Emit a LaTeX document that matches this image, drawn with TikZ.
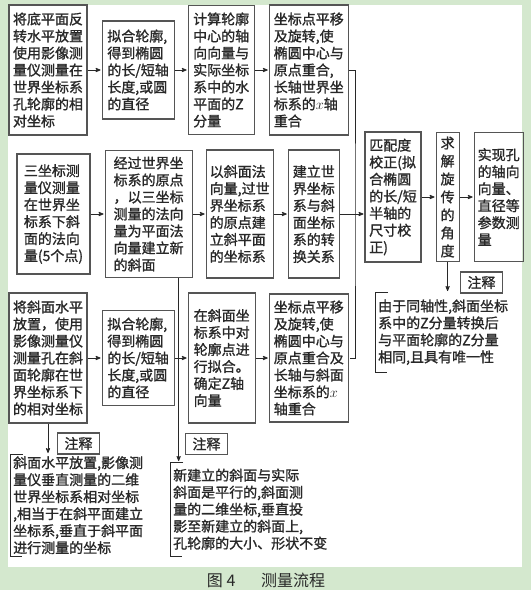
\documentclass[tikz,border=0pt]{standalone}
\usepackage{fontspec}
\setmainfont{Noto Sans CJK SC}[FakeBold=1.2]
\newfontfamily\capfont{Noto Sans CJK SC}
\usepackage{tikz}
\usetikzlibrary{arrows, positioning}
\definecolor{pagegreen}{RGB}{212,232,206}
\definecolor{boxgray}{RGB}{85,85,85}
\definecolor{inkgray}{RGB}{40,40,40}
\tikzset{
		stepbox/.style={draw=boxgray, line width=1.1pt, align=left, inner sep=3pt,
			text=inkgray, font=\fontsize{14}{17}\selectfont},
		notebox/.style={align=left, inner xsep=3pt, inner ysep=0pt,
			text=inkgray, font=\fontsize{14}{17}\selectfont},
		tagbox/.style={draw=boxgray, line width=1.1pt, minimum width=42pt,
			minimum height=21pt, inner sep=0pt, text=inkgray, font=\fontsize{14}{14}\selectfont},
		flow/.style={->, draw=inkgray, line width=0.8pt},
		link/.style={draw=inkgray, line width=0.8pt}
	}
\begin{document}
\begin{tikzpicture}[x=1pt, y=-1pt, >=stealth', shorten >=1pt]
		\useasboundingbox (0,0) rectangle (531,590);
		\fill[pagegreen] (0,0) rectangle (531,590);
		\fill[white] (8,5) rectangle (522,567);

		\node[stepbox, minimum width=78pt, minimum height=130pt] (bot1) at (48,70)
			{将底平面反\\转水平放置\\使用影像测\\量仪测量在\\世界坐标系\\孔轮廓的相\\对坐标};
		\node[stepbox, minimum width=72pt, minimum height=98pt, right=14pt of bot1] (bot2)
			{拟合轮廓,\\得到椭圆\\的长/短轴\\长度,或圆\\的直径};
		\node[stepbox, minimum width=66pt, minimum height=129pt, right=13pt of bot2] (bot3)
			{计算轮廓\\中心的轴\\向向量与\\实际坐标\\系中的水\\平面的Z\\分量};
		\node[stepbox, minimum width=79pt, minimum height=130pt, right=14pt of bot3] (bot4)
			{坐标点平移\\及旋转,使\\椭圆中心与\\原点重合,\\长轴世界坐\\标系的$x$轴\\重合};

		\node[stepbox, minimum width=73pt, minimum height=120pt] (nrm1) at (53.5,214)
			{三坐标测\\量仪测量\\在世界坐\\标系下斜\\面的法向\\量(5个点)};
		\node[stepbox, minimum width=87pt, minimum height=127pt, right=14pt of nrm1] (nrm2)
			{经过世界坐\\标系的原点\\，以三坐标\\测量的法向\\量为平面法\\向量建立新\\的斜面};
		\node[stepbox, minimum width=67pt, minimum height=128pt, right=13pt of nrm2] (nrm3)
			{以斜面法\\向量,过世\\界坐标系\\的原点建\\立斜平面\\的坐标系};
		\node[stepbox, minimum width=51pt, minimum height=128pt, right=14pt of nrm3] (nrm4)
			{建立世\\界坐标\\系与斜\\面坐标\\系的转\\换关系};

		\node[stepbox, minimum width=78pt, minimum height=130pt] (inc1) at (48,358)
			{将斜面水平\\放置，使用\\影像测量仪\\测量孔在斜\\面轮廓在世\\界坐标系下\\的相对坐标};
		\node[stepbox, minimum width=72pt, minimum height=95pt, right=14pt of inc1] (inc2)
			{拟合轮廓,\\得到椭圆\\的长/短轴\\长度,或圆\\的直径};
		\node[stepbox, minimum width=67pt, minimum height=130pt, right=13pt of inc2] (inc3)
			{在斜面坐\\标系中对\\轮廓点进\\行拟合。\\确定Z轴\\向量};
		\node[stepbox, minimum width=79pt, minimum height=128pt, right=13pt of inc3] (inc4)
			{坐标点平移\\及旋转,使\\椭圆中心与\\原点重合及\\长轴与斜面\\坐标系的$x$\\轴重合};

		\node[stepbox, minimum width=56pt, minimum height=130pt] (match) at (393,197)
			{匹配度\\校正(拟\\合椭圆\\的长/短\\半轴的\\尺寸校\\正)};
		\node[stepbox, minimum width=23pt, minimum height=129pt, inner sep=1pt,
			font=\fontsize{14}{18}\selectfont, right=14pt of match] (solve)
			{求\\解\\旋\\传\\的\\角\\度};
		\node[stepbox, minimum width=49pt, minimum height=129pt, right=14pt of solve] (result)
			{实现孔\\的轴向\\向量、\\直径等\\参数测\\量};

		\node[notebox, anchor=north west, minimum height=102pt] (note1) at (10,454)
			{斜面水平放置,影像测\\量仪垂直测量的二维\\世界坐标系相对坐标\\,相当于在斜平面建立\\坐标系,垂直于斜平面\\进行测量的坐标};
		\node[notebox, anchor=north west, minimum height=94pt] (note2) at (170,462)
			{新建立的斜面与实际\\斜面是平行的,斜面测\\量的二维坐标,垂直投\\影至新建立的斜面上,\\孔轮廓的大小、形状不变};
		\node[notebox, anchor=north west, minimum height=80pt] (note3) at (375,292)
			{由于同轴性,斜面坐标\\系中的Z分量转换后\\与平面轮廓的Z分量\\相同,且具有唯一性};

		\node[tagbox] (tag1) at (78.5,443.5) {注释};
		\node[tagbox] (tag2) at (206.5,444) {注释};
		\node[tagbox] (tag3) at (481.5,282.5) {注释};

		\coordinate (bus) at (355,215);

		\draw[flow] (bot1.east) -- (bot1.east -| bot2.west);
		\draw[flow] (bot2.east) -- (bot2.east -| bot3.west);
		\draw[flow] (bot3.east) -- (bot3.east -| bot4.west);
		\draw[flow] (nrm1.east) -- (nrm1.east -| nrm2.west);
		\draw[flow] (nrm2.east) -- (nrm2.east -| nrm3.west);
		\draw[flow] (nrm3.east) -- (nrm3.east -| nrm4.west);
		\draw[flow] (inc1.east) -- (inc1.east -| inc2.west);
		\draw[flow] (inc2.east) -- (inc2.east -| inc3.west);
		\draw[flow] (inc3.east) -- (inc3.east -| inc4.west);
		\draw[link] (bot4.east) -| (bus) |- (inc4.east);
		\draw[flow] (nrm4.east) -- (nrm4.east -| match.west);
		\draw[flow] (match.east) -- (match.east -| solve.west);
		\draw[flow] (solve.east) -- (solve.east -| result.west);

		\draw[flow] (solve.south) -- (solve.south |- note3.north);
		\draw[flow] (inc1.south) -- (inc1.south |- note1.north);
		\draw[flow] ([xshift=-14pt]nrm2.south east) -- ([xshift=-14pt]nrm2.south east |- note2.north);

		\draw[link] ([xshift=13pt]note1.north west) -- (note1.north west) -- (note1.south west) -- ([xshift=13pt]note1.south west);
		\draw[link] ([xshift=13pt]note2.north west) -- (note2.north west) -- (note2.south west) -- ([xshift=13pt]note2.south west);
		\draw[link] ([xshift=13pt]note3.north west) -- (note3.north west) -- (note3.south west) -- ([xshift=13pt]note3.south west);

		\node[text=inkgray, font=\capfont\fontsize{16}{16}\selectfont] (caption) at (266,580) {图~4\hspace{1.6em}测量流程};
	\end{tikzpicture}
\end{document}
